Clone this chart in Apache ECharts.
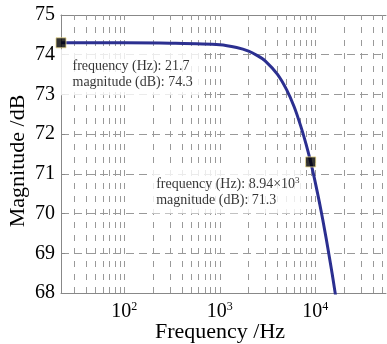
<!DOCTYPE html>
<html>
<head>
<meta charset="utf-8">
<script src="https://cdn.jsdelivr.net/npm/echarts@6/dist/echarts.min.js"></script>
<style>
  html, body { margin: 0; padding: 0; background: #fff; }
  #chart { width: 387px; height: 344px; }
</style>
</head>
<body>
<div id="chart"></div>
<script>
// 幅频响应曲线
var freqHz = [21.7, 100, 300, 1000, 1500, 2000, 2500, 3000, 4000, 5000, 6000, 7000,
  8000, 8940, 10000, 11000, 12000, 13000, 14000, 15000, 16000, 17000];
var magDb = [74.3, 74.3, 74.29, 74.25, 74.18, 74.09, 73.97, 73.84, 73.51, 73.12, 72.69, 72.22,
  71.75, 71.3, 70.78, 70.3, 69.83, 69.37, 68.92, 68.49, 68.06, 67.66];

// 数据提示点
var tipFreqs = [21.7, 8940];
var tipMags = [74.3, 71.3];

// 竖向网格线位置
var gridFreqs = [30, 40, 50, 60, 70, 80, 90, 100,
  200, 300, 400, 500, 600, 700, 800, 900, 1000,
  2000, 3000, 4000, 5000, 6000, 7000, 8000, 9000, 10000,
  20000, 30000, 40000, 50000];

var xMin = 21.7, xMax = 55000;
var serif = "Liberation Serif";

var myChart = echarts.init(document.getElementById("chart"));
myChart.setOption({
  animation: false,
  backgroundColor: "#fff",
  grid: { left: 61, top: 15, right: 1, bottom: 51, outerBoundsMode: "none", containLabel: false },
  xAxis: [
    {
      type: "log",
      logBase: 10,
      min: xMin,
      max: xMax,
      name: "Frequency /Hz",
      nameLocation: "middle",
      nameGap: 28,
      nameMoveOverlap: false,
      nameTextStyle: { fontFamily: serif, fontSize: 22, color: "#000", padding: [0, 7, 0, 0] },
      axisLine: { show: true, lineStyle: { color: "#888" } },
      axisTick: { show: false },
      splitLine: { show: false },
      axisLabel: {
        margin: 8,
        fontFamily: serif,
        fontSize: 20,
        color: "#000",
        showMinLabel: false,
        showMaxLabel: false,
        formatter: function (v) {
          var p = Math.round(Math.log(v) / Math.LN10);
          if (Math.abs(Math.pow(10, p) - v) / v > 1e-6) return "";
          return "10{sup|" + p + "}";
        },
        rich: {
          sup: { fontFamily: serif, fontSize: 12, color: "#000", verticalAlign: "top", padding: [0, 0, 9, 0] }
        }
      }
    },
    {
      type: "log",
      logBase: 10,
      min: xMin,
      max: xMax,
      position: "top",
      axisLine: { show: true, lineStyle: { color: "#888" } },
      axisTick: { show: false },
      axisLabel: { show: false },
      splitLine: { show: false }
    }
  ],
  yAxis: {
    type: "value",
    min: 68,
    max: 75,
    interval: 1,
    name: "Magnitude /dB",
    nameLocation: "middle",
    nameGap: 32,
    nameMoveOverlap: false,
    nameTextStyle: { fontFamily: serif, fontSize: 22, color: "#000", padding: [0, 14, 0, 0] },
    axisLine: { show: true, lineStyle: { color: "#888" } },
    axisTick: { show: true, inside: true, length: 4, lineStyle: { color: "#888" } },
    axisLabel: { margin: 6, fontFamily: serif, fontSize: 20, color: "#000" },
    splitLine: {
      show: true,
      showMinLine: false,
      showMaxLine: false,
      lineStyle: { type: [8, 5], color: "#999", width: 1 }
    }
  },
  series: [
    {
      // 网格
      type: "scatter",
      data: [],
      silent: true,
      z: 1,
      markLine: {
        z: 1,
        silent: true,
        symbol: "none",
        label: { show: false },
        lineStyle: { type: [6, 7], color: "#999", width: 1 },
        data: gridFreqs.map(function (f) { return { xAxis: f }; })
      }
    },
    {
      type: "line",
      data: freqHz.map(function (f, i) { return [f, magDb[i]]; }),
      smooth: 0.3,
      showSymbol: false,
      z: 3,
      lineStyle: { color: "#2b2f90", width: 3 }
    },
    {
      type: "scatter",
      z: 5,
      clip: false,
      symbol: "rect",
      symbolSize: 10,
      itemStyle: { color: "#000", borderColor: "#e6d68a", borderWidth: 1 },
      label: {
        show: true,
        fontFamily: serif,
        fontSize: 14,
        lineHeight: 16,
        color: "#000",
        backgroundColor: "#fff",
        align: "left",
        verticalAlign: "top",
        rich: {
          sup: { fontFamily: serif, fontSize: 9, color: "#000", verticalAlign: "top", padding: [0, 0, 6, 0] }
        }
      },
      data: [
        {
          value: [tipFreqs[0], tipMags[0]],
          label: {
            position: [5, 12],
            padding: [9, 7, 5, 12],
            formatter: "frequency (Hz): " + tipFreqs[0] + "\nmagnitude (dB): " + tipMags[0].toFixed(1)
          }
        },
        {
          value: [tipFreqs[1], tipMags[1]],
          label: {
            position: [-153, 13],
            padding: [7, 2, 5, 4],
            formatter: "frequency (Hz): 8.94\u00d710{sup|3}\nmagnitude (dB): " + tipMags[1].toFixed(1)
          }
        }
      ]
    }
  ]
});
</script>
</body>
</html>
